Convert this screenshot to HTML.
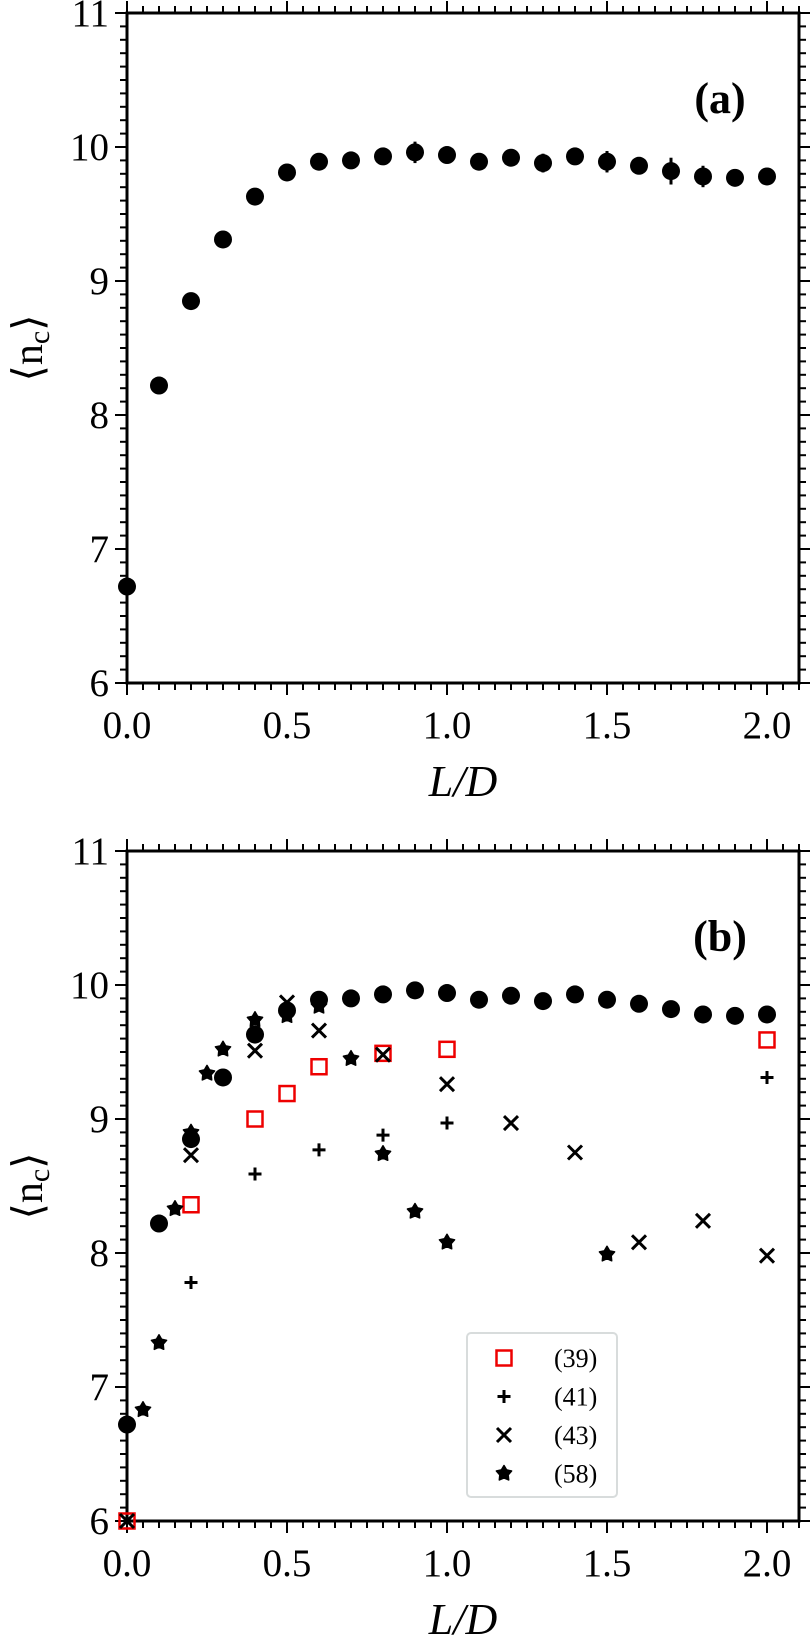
<!DOCTYPE html>
<html><head><meta charset="utf-8">
<style>
html,body{margin:0;padding:0;background:#fff;}
svg{display:block;font-family:"Liberation Serif","DejaVu Serif",serif;}
</style></head>
<body>
<svg id="fig" width="810" height="1645" viewBox="0 0 810 1645" xmlns="http://www.w3.org/2000/svg"></svg>
<script>
// ---- data ----
const xA = [0,0.1,0.2,0.3,0.4,0.5,0.6,0.7,0.8,0.9,1.0,1.1,1.2,1.3,1.4,1.5,1.6,1.7,1.8,1.9,2.0];
const yA = [6.72,8.22,8.85,9.31,9.63,9.81,9.89,9.90,9.93,9.96,9.94,9.89,9.92,9.88,9.93,9.89,9.86,9.82,9.78,9.77,9.78];
const errA = [0.03,0.06,0.06,0.04,0.04,0.04,0.05,0.04,0.05,0.08,0.05,0.04,0.06,0.07,0.05,0.08,0.04,0.10,0.08,0.05,0.06];
const x39 = [0.0,0.2,0.4,0.5,0.6,0.8,1.0,2.0];
const y39 = [6.0,8.36,9.0,9.19,9.39,9.49,9.52,9.59];
const x41 = [0.2,0.2,0.4,0.6,0.8,1.0,2.0];
const y41 = [7.78,8.89,8.59,8.77,8.88,8.97,9.31];
const x43 = [0.0,0.2,0.4,0.5,0.6,0.8,1.0,1.2,1.4,1.6,1.8,2.0];
const y43 = [6.0,8.73,9.51,9.87,9.66,9.48,9.26,8.97,8.75,8.08,8.24,7.98];
const x58 = [0.05,0.1,0.15,0.2,0.25,0.3,0.4,0.5,0.6,0.7,0.8,0.9,1.0,1.5];
const y58 = [6.83,7.33,8.33,8.9,9.34,9.52,9.74,9.77,9.84,9.45,8.74,8.31,8.08,7.99];
const xTicks = ["0.0","0.5","1.0","1.5","2.0"];
const yTicks = ["6","7","8","9","10","11"];
const legendLabels = ["(39)","(41)","(43)","(58)"];

const NS="http://www.w3.org/2000/svg";
const svg=document.getElementById('fig');
function mk(tag,attrs,parent){const e=document.createElementNS(NS,tag);for(const k in attrs)e.setAttribute(k,attrs[k]);(parent||svg).appendChild(e);return e;}

const L=127,R=799;
function sx(v){return L+v*320;}
function panel(top,bottom,name,tag){
  const g=mk('g',{});
  
  
  const sy=v=>bottom-(v-6)*(bottom-top)/5;
  const tg=mk('g',{stroke:'#000','stroke-width':2},g);
  
  
  for(let i=0;i<=42;i++){
    const v=i*0.05, x=sx(v), len=(i%10===0)?12:7;
    mk('line',{x1:x,x2:x,y1:bottom,y2:bottom+len},tg);
    mk('line',{x1:x,x2:x,y1:top,y2:top-len},tg);
  }
  for(let i=0;i<=50;i++){
    const v=6+i*0.1, y=sy(v), len=(i%10===0)?12:7;
    mk('line',{x1:L,x2:L-len,y1:y,y2:y},tg);
    mk('line',{x1:R,x2:R+len,y1:y,y2:y},tg);
  }
  const fr=mk('rect',{x:L,y:top,width:R-L,height:bottom-top,fill:'none',stroke:'#000','stroke-width':3},g);
  
  
  xTicks.forEach((t,i)=>{
    const e=mk('text',{x:sx(i*0.5),y:bottom+55,'font-size':39,'text-anchor':'middle'},g);
    e.textContent=t;
    
    
  });
  yTicks.forEach((t,i)=>{
    const e=mk('text',{x:L-18,y:sy(6+i)+13,'font-size':39,'text-anchor':'end'},g);
    e.textContent=t;
    
    
  });
  const xl=mk('text',{x:(L+R)/2,y:bottom+113,'font-size':44,'font-style':'italic','text-anchor':'middle'},g);
  xl.textContent='L/D';
  
  
  const cy=(top+bottom)/2;
  const yl=mk('text',{x:0,y:0,'font-size':42,'text-anchor':'middle',transform:`translate(42,${cy}) rotate(-90)`},g);
  yl.innerHTML='⟨n<tspan font-size="30" dy="7">c</tspan><tspan dy="-7">⟩</tspan>';
  
  
  const pl=mk('text',{x:720,y:top+100,'font-size':44,'font-weight':'bold','text-anchor':'middle'},g);
  pl.textContent=tag;
  
  
  return {g,sy};
}
function circles(p,withErr){
  xA.forEach((x,i)=>{
    if(withErr){
      const l=mk('line',{x1:sx(x),x2:sx(x),y1:p.sy(yA[i]-errA[i]),y2:p.sy(yA[i]+errA[i]),stroke:'#000','stroke-width':3},p.g);
      
      
    }
    const c=mk('ellipse',{cx:sx(x),cy:p.sy(yA[i]),rx:9,ry:9,fill:'#000'},p.g);
    
    
  });
}
function starPath(cx,cy,r){
  let d='';
  for(let k=0;k<10;k++){
    const a=-Math.PI/2+k*Math.PI/5, rr=(k%2===0)?r:r*0.55;
    d+=(k?'L':'M')+(cx+rr*Math.cos(a)).toFixed(1)+','+(cy+rr*Math.sin(a)).toFixed(1);
  }
  return d+'Z';
}
function marker(type,cx,cy,parent){
  let e;
  if(type==='sq') e=mk('rect',{x:cx-7.5,y:cy-7.5,width:15,height:15,fill:'none',stroke:'#e00','stroke-width':2.5},parent);
  else if(type==='plus') e=mk('path',{d:`M${cx-6.5},${cy}H${cx+6.5}M${cx},${cy-6.5}V${cy+6.5}`,stroke:'#000','stroke-width':3},parent);
  else if(type==='x') e=mk('path',{d:`M${cx-7},${cy-7}L${cx+7},${cy+7}M${cx-7},${cy+7}L${cx+7},${cy-7}`,stroke:'#000','stroke-width':3},parent);
  else e=mk('path',{d:starPath(cx,cy,8),fill:'#000',stroke:'#000','stroke-width':1.5,'stroke-linejoin':'round'},parent);
  return e;
}
const pa=panel(13,683,'panel-a','(a)');
circles(pa,true);
const pb=panel(851,1521,'panel-b','(b)');
circles(pb,false);
[[x39,y39,'sq','series-39'],[x41,y41,'plus','series-41'],[x43,y43,'x','series-43'],[x58,y58,'star','series-58']].forEach(([xs,ys,t,n])=>{
  const sg=mk('g',{},pb.g);
  
  
  xs.forEach((x,i)=>{
    const m=marker(t,sx(x),pb.sy(ys[i]),sg);
    
    
  });
});
const lg=mk('g',{},pb.g);


mk('rect',{x:467,y:1333,width:150,height:164,rx:4,fill:'#fff',stroke:'#d8dcdc','stroke-width':2},lg);
['sq','plus','x','star'].forEach((t,i)=>{
  const y=1358+i*38.5;
  const ent=mk('g',{},lg);
  
  
  marker(t,504,y,ent);
  const tx=mk('text',{x:554,y:y+9,'font-size':26},ent);
  tx.textContent=legendLabels[i];
});
</script>
</body></html>
